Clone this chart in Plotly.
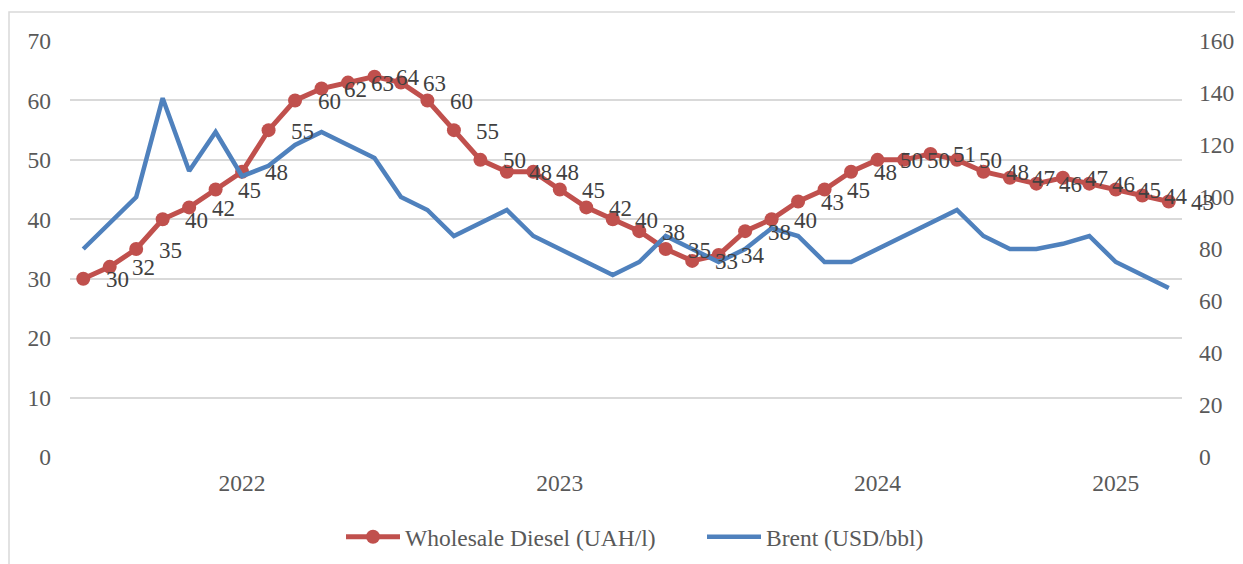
import plotly.graph_objects as go

# ---- data ----
idx = list(range(42))
diesel = [30, 32, 35, 40, 42, 45, 48, 55, 60, 62, 63, 64, 63, 60, 55, 50, 48, 48, 45, 42, 40,
          38, 35, 33, 34, 38, 40, 43, 45, 48, 50, 50, 51, 50, 48, 47, 46, 47, 46, 45, 44, 43]
brent = [80, 90, 100, 138, 110, 125, 108, 112, 120, 125, 120, 115, 100, 95, 85, 90, 95, 85, 80, 75, 70,
         75, 85, 80, 75, 80, 88, 85, 75, 75, 80, 85, 90, 95, 85, 80, 80, 82, 85, 75, 70, 65]
year_pos = [6, 18, 30, 39]
year_labels = ["2022", "2023", "2024", "2025"]
left_ticks = [0, 10, 20, 30, 40, 50, 60, 70]
right_ticks = [0, 20, 40, 60, 80, 100, 120, 140, 160]

RED = "#C0504D"
BLUE = "#4F81BD"
GRID = "#D9D9D9"
FONT = "Liberation Serif, DejaVu Serif, serif"
FS = 23.5

W, H = 1235, 556          # page has an 8px body margin
ML, MR, MT, MB = 62, 61, 33, 107
PW, PH = W - ML - MR, H - MT - MB

fig = go.Figure()
fig.add_trace(go.Scatter(
    x=idx, y=diesel, name="Wholesale Diesel (UAH/l)", mode="lines+markers",
    line=dict(color=RED, width=5), marker=dict(color=RED, size=14),
    yaxis="y"))
fig.add_trace(go.Scatter(
    x=idx, y=brent, name="Brent (USD/bbl)", mode="lines",
    line=dict(color=BLUE, width=4.5), yaxis="y2"))

for xi, v in zip(idx, diesel):
    fig.add_annotation(x=xi, y=v, xref="x", yref="y", text=str(v), showarrow=False,
                       xanchor="center", yanchor="middle", xshift=34, yshift=-1,
                       font=dict(family=FONT, size=23, color="#404040"))

fig.update_layout(
    width=W, height=H,
    margin=dict(l=ML, r=MR, t=MT, b=MB, autoexpand=False),
    paper_bgcolor="white", plot_bgcolor="white",
    font=dict(family=FONT, size=FS, color="#595959"),
    showlegend=True,
    legend=dict(orientation="h", x=(341 - 8 - ML) / PW, xanchor="left", y=-80 / PH,
                yanchor="middle",
                font=dict(family=FONT, size=FS, color="#595959"), traceorder="normal",
                itemwidth=54, entrywidth=292, entrywidthmode="pixels"),
    xaxis=dict(range=[-0.5, 41.5], tickmode="array", tickvals=year_pos, ticktext=year_labels,
               showgrid=False, zeroline=False, showline=False, ticks="",
               ticklabelstandoff=9,
               tickfont=dict(family=FONT, size=FS, color="#595959")),
    yaxis=dict(range=[0, 70], tickmode="array", tickvals=left_ticks, showgrid=True,
               gridcolor=GRID, gridwidth=1.5, zeroline=False, showline=False, ticks="",
               ticklabelstandoff=18,
               tickfont=dict(family=FONT, size=FS, color="#595959")),
    yaxis2=dict(range=[0, 160], tickmode="array", tickvals=right_ticks, overlaying="y",
                side="right", showgrid=False, zeroline=False, showline=False, ticks="",
                ticklabelstandoff=16,
                tickfont=dict(family=FONT, size=FS, color="#595959")),
)

# outer chart frame (light gray), extending past the right/bottom edges
fig.add_shape(type="rect", xref="paper", yref="paper",
              x0=(1 - ML) / PW, x1=(W + 20 - ML) / PW,
              y0=-(MB + 20) / PH, y1=(PH + MT - 4) / PH,
              line=dict(color=GRID, width=1.5), fillcolor="rgba(0,0,0,0)", layer="below")

fig.write_html("out.html")
